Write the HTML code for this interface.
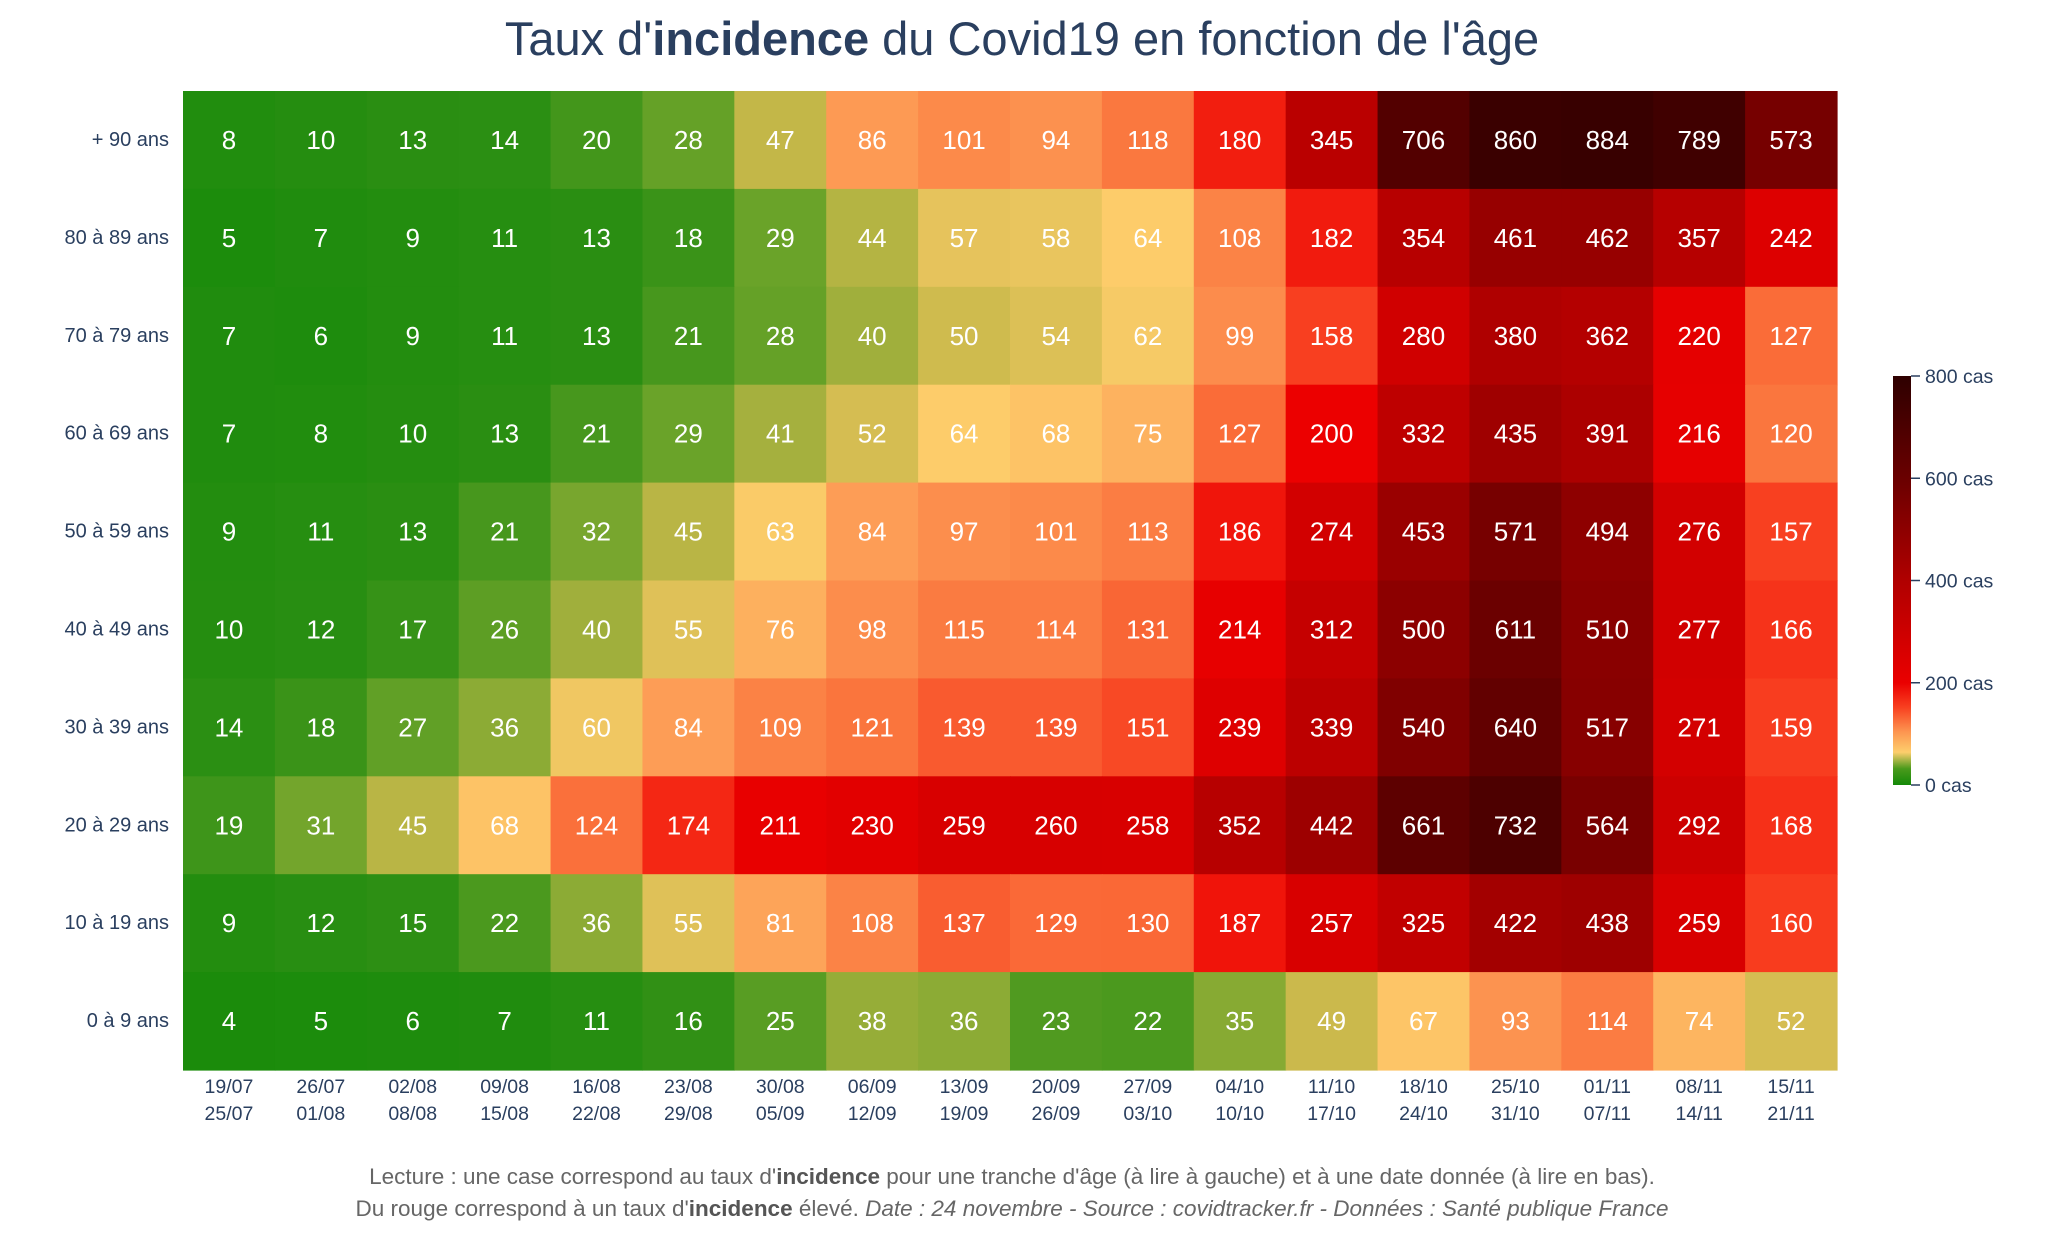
<!DOCTYPE html>
<html><head><meta charset="utf-8">
<style>
body{margin:0;background:#fff;width:2048px;height:1252px;overflow:hidden;font-family:"Liberation Sans",sans-serif;}
</style></head>
<body>
<svg id="chart" width="2048" height="1252" xmlns="http://www.w3.org/2000/svg">
<defs>
<linearGradient id="cbGrad" x1="0" y1="1" x2="0" y2="0">
<stop offset="0" stop-color="#148a08"/>
<stop offset="0.04" stop-color="#4a9a1c"/>
<stop offset="0.08" stop-color="#fdce6c"/>
<stop offset="0.13" stop-color="#fd9550"/>
<stop offset="0.19" stop-color="#f84020"/>
<stop offset="0.25" stop-color="#ea0000"/>
<stop offset="0.5" stop-color="#b00000"/>
<stop offset="0.75" stop-color="#6a0000"/>
<stop offset="1" stop-color="#2e0000"/>
</linearGradient>
</defs>
<text x="1022" y="55" text-anchor="middle" font-size="47" fill="#2a3f5f">Taux d'<tspan font-weight="bold">incidence</tspan> du Covid19 en fonction de l'âge</text>
<g id="cells"></g>
<g id="ylabels"></g>
<g id="xlabels"></g>
<rect x="1893" y="376" width="18" height="409" fill="url(#cbGrad)"/>
<g id="cbticks"></g>
<text x="1012" y="1184" text-anchor="middle" font-size="22.5" fill="#666">Lecture : une case correspond au taux d'<tspan font-weight="bold" fill="#555">incidence</tspan> pour une tranche d'âge (à lire à gauche) et à une date donnée (à lire en bas).</text>
<text x="1012" y="1216" text-anchor="middle" font-size="22.5" fill="#666">Du rouge correspond à un taux d'<tspan font-weight="bold" fill="#555">incidence</tspan> élevé.  <tspan font-style="italic">Date : 24 novembre - Source : covidtracker.fr - Données : Santé publique France</tspan></text>
</svg>
<script>
const ageGroups=["+ 90 ans","80 à 89 ans","70 à 79 ans","60 à 69 ans","50 à 59 ans","40 à 49 ans","30 à 39 ans","20 à 29 ans","10 à 19 ans","0 à 9 ans"];
const weekStart=["19/07","26/07","02/08","09/08","16/08","23/08","30/08","06/09","13/09","20/09","27/09","04/10","11/10","18/10","25/10","01/11","08/11","15/11"];
const weekEnd=["25/07","01/08","08/08","15/08","22/08","29/08","05/09","12/09","19/09","26/09","03/10","10/10","17/10","24/10","31/10","07/11","14/11","21/11"];
const rowP90=[8,10,13,14,20,28,47,86,101,94,118,180,345,706,860,884,789,573];
const row80=[5,7,9,11,13,18,29,44,57,58,64,108,182,354,461,462,357,242];
const row70=[7,6,9,11,13,21,28,40,50,54,62,99,158,280,380,362,220,127];
const row60=[7,8,10,13,21,29,41,52,64,68,75,127,200,332,435,391,216,120];
const row50=[9,11,13,21,32,45,63,84,97,101,113,186,274,453,571,494,276,157];
const row40=[10,12,17,26,40,55,76,98,115,114,131,214,312,500,611,510,277,166];
const row30=[14,18,27,36,60,84,109,121,139,139,151,239,339,540,640,517,271,159];
const row20=[19,31,45,68,124,174,211,230,259,260,258,352,442,661,732,564,292,168];
const row10=[9,12,15,22,36,55,81,108,137,129,130,187,257,325,422,438,259,160];
const row0=[4,5,6,7,11,16,25,38,36,23,22,35,49,67,93,114,74,52];
const cbTicks=[0,200,400,600,800];
const values=[rowP90,row80,row70,row60,row50,row40,row30,row20,row10,row0];

const NS="http://www.w3.org/2000/svg";
const X0=183,X1=1837,Y0=91,Y1=1070;
const cw=(X1-X0)/weekStart.length, ch=(Y1-Y0)/ageGroups.length;
const xPos=i=>X0+i*cw, yPos=j=>Y0+j*ch;
const cbY=v=>785-(v/800)*409;
const stops=[[0,[20,138,8]],[15,[45,143,20]],[30,[110,164,42]],[48,[200,184,74]],[64,[253,204,106]],[85,[253,155,85]],[120,[250,118,62]],[160,[248,60,30]],[200,[236,0,0]],[350,[184,0,0]],[500,[140,0,0]],[650,[95,0,0]],[800,[62,0,0]],[900,[55,0,0]]];
function color(v){
  for(let k=1;k<stops.length;k++){
    if(v<=stops[k][0]){const a=stops[k-1],b=stops[k];const t=(v-a[0])/(b[0]-a[0]);
      const c=a[1].map((x,i)=>Math.round(x+(b[1][i]-x)*t));return `rgb(${c})`;}
  }
  return "rgb(55,0,0)";
}
const cells=document.getElementById('cells');
values.forEach((row,j)=>row.forEach((v,i)=>{
  const r=document.createElementNS(NS,'rect');
  
  
  r.setAttribute('x',xPos(i));r.setAttribute('y',yPos(j));
  r.setAttribute('width',cw+0.6);r.setAttribute('height',ch+0.6);
  r.setAttribute('fill',color(v));
  cells.appendChild(r);
  const t=document.createElementNS(NS,'text');
  
  
  t.setAttribute('x',xPos(i)+cw/2);t.setAttribute('y',yPos(j)+ch/2+9);
  t.setAttribute('text-anchor','middle');t.setAttribute('font-size','26');t.setAttribute('fill','#fff');
  t.textContent=v;cells.appendChild(t);
}));
const yl=document.getElementById('ylabels');
ageGroups.forEach((g,j)=>{
  const t=document.createElementNS(NS,'text');
  
  
  t.setAttribute('x',169);t.setAttribute('y',yPos(j)+ch/2+6);
  t.setAttribute('text-anchor','end');t.setAttribute('font-size','20');t.setAttribute('fill','#2a3f5f');
  t.textContent=g;yl.appendChild(t);
});
const xl=document.getElementById('xlabels');
weekStart.forEach((s,i)=>{
  [[s,1093],[weekEnd[i],1120]].forEach(([txt,y])=>{
    const t=document.createElementNS(NS,'text');
    
    
    t.setAttribute('x',xPos(i)+cw/2);t.setAttribute('y',y);
    t.setAttribute('text-anchor','middle');t.setAttribute('font-size','19.5');t.setAttribute('fill','#2a3f5f');
    t.textContent=txt;xl.appendChild(t);
  });
});
const cb=document.getElementById('cbticks');
cbTicks.forEach(v=>{
  const l=document.createElementNS(NS,'line');
  
  
  l.setAttribute('x1',1911);l.setAttribute('x2',1920);l.setAttribute('y1',cbY(v));l.setAttribute('y2',cbY(v));
  l.setAttribute('stroke','#2a3f5f');l.setAttribute('stroke-width','1.5');cb.appendChild(l);
  const t=document.createElementNS(NS,'text');
  
  
  t.setAttribute('x',1925);t.setAttribute('y',cbY(v)+7);t.setAttribute('font-size','19.5');t.setAttribute('fill','#2a3f5f');
  t.textContent=v+' cas';cb.appendChild(t);
});
</script>
</body></html>
